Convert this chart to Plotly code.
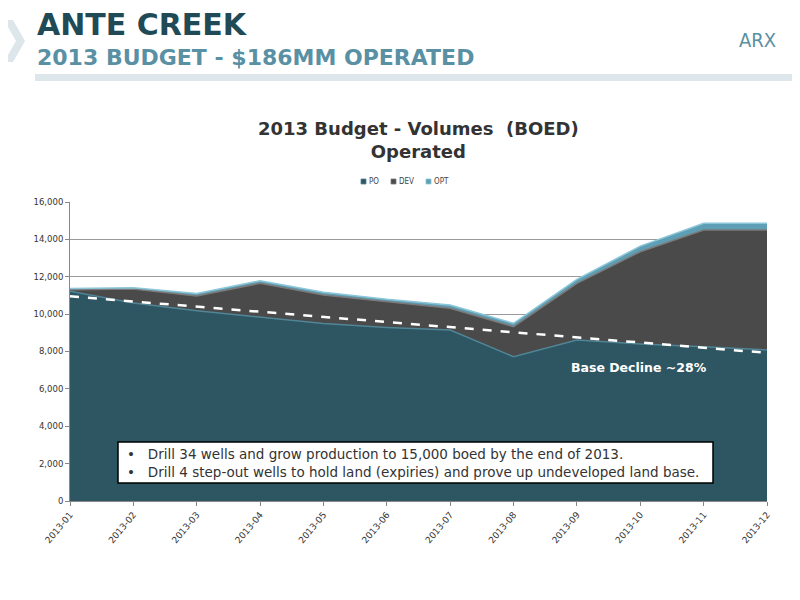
import plotly.graph_objects as go

# data
months = ["2013-01", "2013-02", "2013-03", "2013-04", "2013-05", "2013-06",
          "2013-07", "2013-08", "2013-09", "2013-10", "2013-11", "2013-12"]
po = [11230, 10590, 10180, 9860, 9500, 9290, 9150, 7720, 8610, 8400, 8260, 8080]
dev = [80, 760, 790, 1790, 1520, 1370, 1160, 1610, 3040, 4940, 6240, 6420]
opt = [60, 60, 140, 140, 150, 130, 180, 180, 210, 300, 360, 360]
base_decline = [10950, 10680, 10400, 10130, 9850, 9580, 9300, 9030, 8750, 8480, 8200, 7930]
y_ticks = [0, 2000, 4000, 6000, 8000, 10000, 12000, 14000, 16000]

# page body adds 8px, so work in screenshot pixels and shift back
OFF = 8
L, R, T, B = 70, 767, 202, 501


def px(x):
    return (x - L) / (R - L)


def py(y):
    return (B - y) / (B - T)


series = [("PO", po, "#2E5562", "#4F8596"),
          ("DEV", dev, "#4A4A4A", "#7A7A7A"),
          ("OPT", opt, "#5E9FB5", "#8CC6D8")]

fig = go.Figure()
for name, vals, fill, edge in series:
    fig.add_trace(go.Scatter(x=months, y=vals, name=name, stackgroup="v", mode="lines",
                             fillcolor=fill, line=dict(color=edge, width=1.5)))
fig.add_trace(go.Scatter(x=months, y=base_decline, mode="lines", name="Base Decline",
                         line=dict(color="white", width=2.5, dash="dash")))

shapes = [
    # header band and chevron
    dict(type="rect", xref="paper", yref="paper", x0=px(35), x1=px(810), y0=py(74), y1=py(81),
         fillcolor="#DDE6EA", line=dict(width=0), layer="below"),
    dict(type="path", xref="paper", yref="paper",
         path="M %f,%f L %f,%f L %f,%f L %f,%f L %f,%f L %f,%f Z" % (
             px(4), py(20), px(13), py(20), px(25), py(41),
             px(13), py(62), px(4), py(62), px(16), py(41)),
         fillcolor="#DDE6EA", line=dict(width=0)),
    # text box
    dict(type="rect", xref="paper", yref="paper", x0=px(118), x1=px(713), y0=py(442), y1=py(483),
         fillcolor="white", line=dict(color="black", width=1.5)),
]

annotations = [
    dict(text="<b>ANTE CREEK</b>", x=px(35), y=py(25), xanchor="left", yanchor="middle",
         font=dict(size=30, color="#1F4A56", family="DejaVu Sans")),
    dict(text="<b>2013 BUDGET - $186MM OPERATED</b>", x=px(35), y=py(57), xanchor="left", yanchor="middle",
         font=dict(size=22, color="#5A90A3", family="DejaVu Sans")),
    dict(text="ARX", x=px(778), y=py(40), xanchor="right", yanchor="middle",
         font=dict(size=20, color="#5A90A3", family="DejaVu Sans Condensed, DejaVu Sans")),
    dict(text="<b>2013 Budget - Volumes  (BOED)<br>Operated</b>", x=px(418), y=py(140),
         xanchor="center", yanchor="middle",
         font=dict(size=18, color="#333333", family="DejaVu Sans")),
    dict(text="<b>Base Decline ~28%</b>", x=px(639), y=py(367), xanchor="center", yanchor="middle",
         font=dict(size=12.5, color="white", family="DejaVu Sans")),
    dict(text="•   Drill 34 wells and grow production to 15,000 boed by the end of 2013.<br>"
              "•   Drill 4 step-out wells to hold land (expiries) and prove up undeveloped land base.",
         x=px(125), y=py(462.5), xanchor="left", yanchor="middle", align="left",
         font=dict(size=13.5, color="#333333", family="DejaVu Sans")),
]

# small legend: square swatch + label
legend_x = [361, 391, 426]
for (name, vals, fill, edge), lx in zip(series, legend_x):
    shapes.append(dict(type="rect", xref="paper", yref="paper",
                       x0=px(lx), x1=px(lx + 5), y0=py(184), y1=py(179),
                       fillcolor=fill, line=dict(color=edge, width=0.8)))
    annotations.append(dict(text=name, x=px(lx + 6), y=py(181.5), xanchor="left", yanchor="middle",
                            font=dict(size=8, color="#444444",
                                      family="DejaVu Sans Condensed, DejaVu Sans")))

for a in annotations:
    a.update(xref="paper", yref="paper", showarrow=False)

fig.update_layout(
    width=800, height=600,
    margin=dict(l=L - OFF, r=800 - R + OFF, t=T - OFF, b=600 - B + OFF),
    paper_bgcolor="white", plot_bgcolor="white",
    font=dict(family="DejaVu Sans", color="#333333"),
    showlegend=False,
    shapes=shapes,
    annotations=annotations,
)
fig.update_xaxes(type="category", range=[0, len(months) - 1], tickangle=-50,
                 tickfont=dict(size=9, color="#333333"), showgrid=False,
                 showline=True, linecolor="#888888", ticks="outside", ticklen=4, tickcolor="#888888")
fig.update_yaxes(range=[0, 16000], tickvals=y_ticks, tickformat=",",
                 tickfont=dict(size=8.5, color="#333333"), showgrid=True, gridcolor="#9A9A9A",
                 showline=True, linecolor="#888888", ticks="outside", ticklen=4, tickcolor="#888888",
                 zeroline=False)

fig.write_html("out.html")
